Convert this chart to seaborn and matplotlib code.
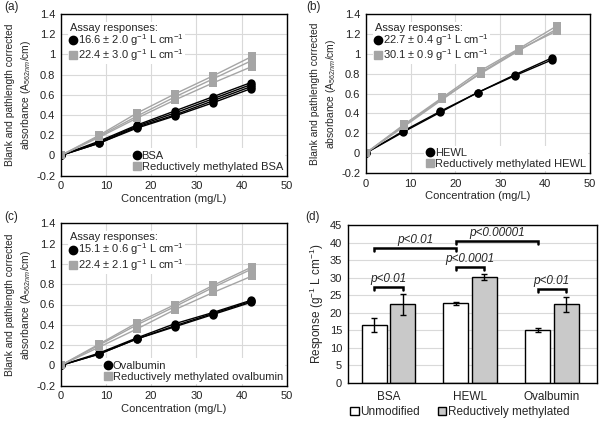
import numpy as np
import pandas as pd
import matplotlib
matplotlib.use("Agg")
import matplotlib.pyplot as plt
import seaborn as sns
from matplotlib.lines import Line2D

sns.set_theme(style="white")
plt.rcParams['font.family'] = ['Liberation Sans', 'DejaVu Sans']
plt.rcParams['mathtext.fontset'] = 'custom'
plt.rcParams['mathtext.rm'] = 'Liberation Sans'
plt.rcParams['mathtext.it'] = 'Liberation Sans:italic'

# ---- standard curves (replicates), x = concentration in mg/L ----
conc_unmod = [0, 8.4, 16.8, 25.2, 33.6, 42.0]
conc_meth = [0, 8.5, 16.9, 25.3, 33.8, 42.3]
hewl_conc_unmod = [0, 8.3, 16.6, 25.0, 33.3, 41.6]
hewl_conc_meth = [0, 8.6, 17.1, 25.6, 34.1, 42.6]

bsa_unmod = [[0, 0.14, 0.30, 0.44, 0.58, 0.72],
             [0, 0.13, 0.29, 0.42, 0.56, 0.70],
             [0, 0.12, 0.28, 0.40, 0.54, 0.68],
             [0, 0.12, 0.27, 0.39, 0.52, 0.66]]
bsa_meth = [[0, 0.20, 0.42, 0.61, 0.79, 0.98],
            [0, 0.19, 0.39, 0.58, 0.76, 0.94],
            [0, 0.18, 0.37, 0.55, 0.72, 0.88]]

hewl_unmod = [[0, 0.22, 0.42, 0.61, 0.79, 0.96],
              [0, 0.21, 0.41, 0.61, 0.78, 0.94]]
hewl_meth = [[0, 0.29, 0.56, 0.83, 1.05, 1.28],
             [0, 0.28, 0.55, 0.80, 1.03, 1.25],
             [0, 0.27, 0.54, 0.81, 1.04, 1.23]]

ova_unmod = [[0, 0.12, 0.27, 0.41, 0.52, 0.64],
             [0, 0.11, 0.26, 0.39, 0.51, 0.63],
             [0, 0.11, 0.26, 0.38, 0.50, 0.62]]
ova_meth = [[0, 0.21, 0.42, 0.60, 0.79, 0.97],
            [0, 0.20, 0.40, 0.58, 0.77, 0.95],
            [0, 0.18, 0.36, 0.55, 0.72, 0.88]]

# ---- assay responses (g^-1 L cm^-1) ----
proteins = ['BSA', 'HEWL', 'Ovalbumin']
resp_unmod = [16.6, 22.7, 15.1]
sd_unmod = [2.0, 0.4, 0.6]
resp_meth = [22.4, 30.1, 22.4]
sd_meth = [3.0, 0.9, 2.1]

# significance comparisons: (left bar, right bar, label)
pair_tests = [(('u', 0), ('m', 0), 'p<0.01'),
              (('u', 1), ('m', 1), 'p<0.0001'),
              (('u', 2), ('m', 2), 'p<0.01'),
              (('u', 0), ('u', 1), 'p<0.01'),
              (('u', 1), ('u', 2), 'p<0.00001')]
bracket_y = [27.4, 33.1, 26.7, 38.4, 40.4]

BLACK = '#000000'
GREY = '#a5a5a5'
GRID = '#d9d9d9'

W, H = 600, 421
fig = plt.figure(figsize=(6.0, 4.21), dpi=100)


def px_axes(l, t, r, b):
    return fig.add_axes([l / W, 1 - b / H, (r - l) / W, (b - t) / H])


def long_df(conc_u, reps_u, conc_m, reps_m):
    rows = []
    for i, rep in enumerate(reps_u):
        for c, a in zip(conc_u, rep):
            rows.append({'conc': c, 'abs': a, 'form': 'u', 'rep': f'u{i}'})
    for i, rep in enumerate(reps_m):
        for c, a in zip(conc_m, rep):
            rows.append({'conc': c, 'abs': a, 'form': 'm', 'rep': f'm{i}'})
    return pd.DataFrame(rows)


def draw_curves(ax, df, name, idx):
    sns.lineplot(data=df, x='conc', y='abs', hue='form', style='form',
                 units='rep', estimator=None, hue_order=['u', 'm'],
                 palette={'u': BLACK, 'm': GREY},
                 markers={'u': 'o', 'm': 's'}, dashes=False,
                 markersize=6, markeredgewidth=0, linewidth=1.0,
                 legend=False, ax=ax)
    ax.set_xlim(0, 50)
    ax.set_ylim(-0.2, 1.4)
    ax.set_xticks(np.arange(0, 51, 10))
    yt = np.round(np.arange(-0.2, 1.41, 0.2), 1)
    ax.set_yticks(yt)
    ax.set_yticklabels([f'{v:g}' for v in yt])
    ax.grid(True, color=GRID, linewidth=0.8)
    ax.set_axisbelow(True)
    for s in ax.spines.values():
        s.set_color(BLACK)
        s.set_linewidth(1.0)
    ax.tick_params(length=0, labelsize=8, pad=4, colors='#222222')
    ax.set_xlabel('Concentration (mg/L)', fontsize=8, labelpad=2)
    ax.set_ylabel('Blank and pathlength corrected\nabsorbance (A$_{562nm}$/cm)',
                  fontsize=7.4, labelpad=2, linespacing=1.45)

    h_u = Line2D([], [], color=BLACK, marker='o', ls='none', markersize=6)
    h_m = Line2D([], [], color=GREY, marker='s', ls='none', markersize=6)
    lab_u = f'{resp_unmod[idx]:.1f} ± {sd_unmod[idx]:.1f} g$^{{-1}}$ L cm$^{{-1}}$'
    lab_m = f'{resp_meth[idx]:.1f} ± {sd_meth[idx]:.1f} g$^{{-1}}$ L cm$^{{-1}}$'
    leg1 = ax.legend([h_u, h_m], [lab_u, lab_m], title='Assay responses:',
                     loc='upper left', fontsize=8, title_fontsize=8,
                     alignment='left', frameon=True, facecolor='white',
                     edgecolor='none', framealpha=1, fancybox=False,
                     handlelength=0.6, handletextpad=0.15, borderpad=0.1,
                     labelspacing=-0.05, borderaxespad=0.7)
    ax.add_artist(leg1)
    meth_name = 'Reductively methylated ' + (name if name != 'Ovalbumin' else 'ovalbumin')
    ax.legend([h_u, h_m], [name, meth_name], loc='lower right', fontsize=8,
              frameon=True, facecolor='white', edgecolor='none', framealpha=1,
              fancybox=False, handlelength=0.6, handletextpad=0.15,
              borderpad=0.2, labelspacing=0.1, borderaxespad=0.15)


ax_a = px_axes(60.7, 14, 286.7, 175.7)
draw_curves(ax_a, long_df(conc_unmod, bsa_unmod, conc_meth, bsa_meth), 'BSA', 0)
ax_b = px_axes(365.7, 14, 590, 173)
draw_curves(ax_b, long_df(hewl_conc_unmod, hewl_unmod, hewl_conc_meth, hewl_meth), 'HEWL', 1)
ax_c = px_axes(60.7, 223.3, 286.7, 385.7)
draw_curves(ax_c, long_df(conc_unmod, ova_unmod, conc_meth, ova_meth), 'Ovalbumin', 2)

# ---- (d) bar chart ----
ax_d = px_axes(347.7, 225, 596.7, 382.7)
bar_df = pd.DataFrame({
    'protein': proteins * 2,
    'response': resp_unmod + resp_meth,
    'form': ['Unmodified'] * 3 + ['Reductively methylated'] * 3,
})
sns.barplot(data=bar_df, x='protein', y='response', hue='form',
            hue_order=['Unmodified', 'Reductively methylated'],
            palette={'Unmodified': 'white', 'Reductively methylated': '#c9c9c9'},
            edgecolor=BLACK, linewidth=1.0, width=0.7, gap=0.12,
            errorbar=None, ax=ax_d)

centers = {}
for key, cont, means, sds in [('u', ax_d.containers[0], resp_unmod, sd_unmod),
                               ('m', ax_d.containers[1], resp_meth, sd_meth)]:
    xs = [b.get_x() + b.get_width() / 2 for b in cont]
    centers[key] = xs
    ax_d.errorbar(xs, means, yerr=sds, fmt='none', ecolor=BLACK,
                  elinewidth=1, capsize=2.5, capthick=1, zorder=5)

for (a, b, label), y in zip(pair_tests, bracket_y):
    x1 = centers[a[0]][a[1]]
    x2 = centers[b[0]][b[1]]
    ax_d.plot([x1, x1, x2, x2], [y - 0.9, y, y, y - 0.9], color=BLACK,
              lw=1.8, solid_joinstyle='miter', zorder=6)
    ax_d.text((x1 + x2) / 2, y + 0.6, label, ha='center', va='bottom',
              fontsize=8.5, style='italic')

ax_d.set_xlim(-0.5, 2.55)
ax_d.set_ylim(0, 45)
ax_d.set_yticks(np.arange(0, 46, 5))
ax_d.yaxis.grid(True, color=GRID, linewidth=0.8)
ax_d.set_axisbelow(True)
for s in ax_d.spines.values():
    s.set_color(BLACK)
    s.set_linewidth(1.0)
ax_d.tick_params(length=0, labelsize=8, pad=4, colors='#222222')
ax_d.tick_params(axis='x', labelsize=8.5, pad=6)
ax_d.set_xlabel('')
ax_d.set_ylabel('Response (g$^{-1}$ L cm$^{-1}$)', fontsize=8.5, labelpad=3)
sns.move_legend(ax_d, 'upper center', bbox_to_anchor=(0.45, -0.12), ncol=2,
                frameon=False, title=None, fontsize=8.5, handlelength=0.7,
                handleheight=0.7, handletextpad=0.15, columnspacing=1.5,
                borderaxespad=0)

# panel letters
for (x, y), lab in zip([(4, 7), (306, 7), (4, 217), (305, 217)],
                       ['(a)', '(b)', '(c)', '(d)']):
    fig.text(x / W, 1 - y / H, lab, fontsize=8.5, va='center', ha='left')

fig.savefig('out.png', dpi=100)
